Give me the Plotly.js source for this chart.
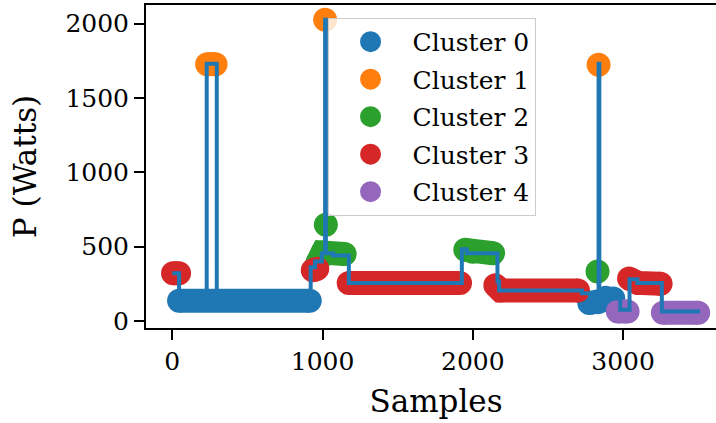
<!DOCTYPE html>
<html>
<head>
<meta charset="utf-8">
<script src="https://cdn.plot.ly/plotly-3.0.1.min.js"></script>
<style>
html, body { margin: 0; padding: 0; overflow: hidden; background: #fff; }
#chart { width: 730px; height: 423px; }
</style>
</head>
<body>
<div id="chart"></div>
<script>
// Cluster labels and colours
const clusterNames = ["Cluster 0", "Cluster 1", "Cluster 2", "Cluster 3", "Cluster 4"];
const clusterColors = ["#1f77b4", "#ff7f0e", "#2ca02c", "#d62728", "#9467bd"];

// Cluster sample runs (sample index, power in W); null separates runs
const c0X = [45, 915, null, 2775, 2830, 2885, 2935];
const c0Y = [135, 135, null, 120, 125, 155, 150];
const c1X = [232, 288, null, 1017, null, 2837];
const c1Y = [1727, 1727, null, 2025, null, 1723];
const c2X = [965, 1000, 1147, null, 1022, null, 1950, 2000, 2135, null, 2830];
const c2Y = [390, 460, 450, null, 646, null, 478, 465, 455, null, 332];
const c3X = [5, 45, null, 935, 965, null, 1174, 1915, null, 2150, 2185, 2700, null, 3040, 3100, 3250];
const c3Y = [320, 320, null, 340, 350, null, 254, 254, null, 240, 205, 205, null, 285, 255, 250];
const c4X = [2965, 3030, null, 3265, 3500];
const c4Y = [63, 63, null, 55, 55];

// Step signal (change points)
const stepX = [0, 45, 229, 296, 921, 950, 995, 1017, 1022, 1070, 1175, 1927, 1960, 2164, 2175, 2726, 2780, 2837, 2842, 2981, 3043, 3095, 3258, 3513];
const stepY = [320, 135, 1730, 135, 360, 400, 455, 2025, 455, 440, 254, 482, 455, 264, 204, 186, 135, 1730, 150, 74, 280, 255, 63, 63];

const xTicks = [0, 1000, 2000, 3000];
const yTicks = [0, 500, 1000, 1500, 2000];

const clusterX = [c0X, c1X, c2X, c3X, c4X];
const clusterY = [c0Y, c1Y, c2Y, c3Y, c4Y];

const FONT = "'DejaVu Serif', 'Liberation Serif', serif";
const BAND = 24;

const traces = [];
for (let i = 0; i < clusterNames.length; i++) {
  traces.push({
    type: "scatter", mode: "lines", x: clusterX[i], y: clusterY[i],
    line: { color: clusterColors[i], width: BAND },
    connectgaps: false, showlegend: false, hoverinfo: "skip",
    legendgroup: "g" + i
  });
  traces.push({
    type: "scatter", mode: "markers", x: clusterX[i], y: clusterY[i],
    name: clusterNames[i],
    marker: { color: clusterColors[i], size: BAND - 5, line: { color: clusterColors[i], width: 5 } },
    legendgroup: "g" + i
  });
}
traces.push({
  type: "scatter", mode: "lines", x: stepX, y: stepY,
  line: { color: "#1f77b4", width: 4, shape: "hv" },
  showlegend: false, name: "P"
});

const layout = {
  width: 730, height: 423,
  margin: { l: 146, r: 4, t: 5, b: 95 },
  paper_bgcolor: "#fff", plot_bgcolor: "#fff",
  font: { family: FONT, color: "#000", size: 25 },
  showlegend: true,
  legend: {
    x: 0.313, y: 0.96, xanchor: "left", yanchor: "top",
    bgcolor: "rgba(255,255,255,0.8)", bordercolor: "#cccccc", borderwidth: 1,
    font: { family: FONT, size: 25, color: "#000" },
    traceorder: "grouped", tracegroupgap: 2, itemwidth: 74
  },
  xaxis: {
    range: [-175, 3685], tickvals: xTicks, ticktext: xTicks.map(String),
    showgrid: false, zeroline: false, showline: true, mirror: true,
    linecolor: "#000", linewidth: 2, ticks: "outside", ticklen: 10, tickwidth: 2, tickcolor: "#000",
    tickfont: { family: FONT, size: 25, color: "#000" },
    title: { text: "Samples", font: { family: FONT, size: 31, color: "#000" }, standoff: 15 }
  },
  yaxis: {
    range: [-48, 2125], tickvals: yTicks, ticktext: yTicks.map(String),
    showgrid: false, zeroline: false, showline: true, mirror: true,
    linecolor: "#000", linewidth: 2, ticks: "outside", ticklen: 10, tickwidth: 2, tickcolor: "#000",
    tickfont: { family: FONT, size: 25, color: "#000" },
    title: { text: "P (Watts)", font: { family: FONT, size: 31, color: "#000" }, standoff: 20 }
  }
};

Plotly.newPlot("chart", traces, layout, { staticPlot: true, displayModeBar: false });
</script>
</body>
</html>
